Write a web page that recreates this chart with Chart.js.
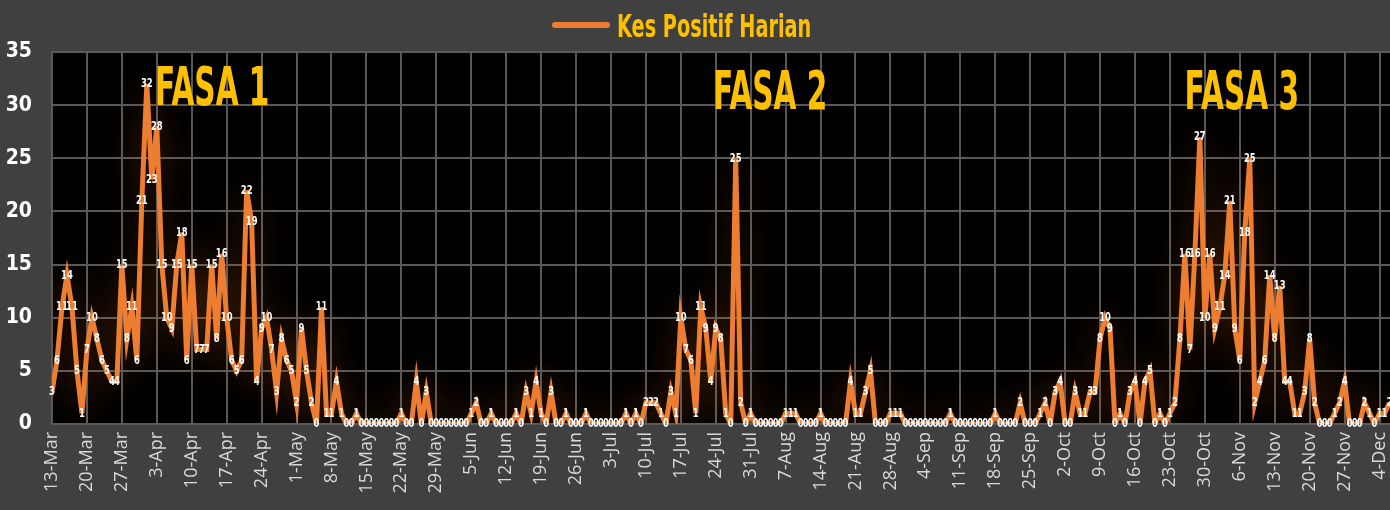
<!DOCTYPE html>
<html>
<head>
<meta charset="utf-8">
<title>Kes Positif Harian</title>
<script src="https://cdn.jsdelivr.net/npm/chart.js@4.4.1/dist/chart.umd.min.js"></script>
<style>
  html, body { margin: 0; padding: 0; background: #404040; overflow: hidden; }
  #wrap { position: relative; width: 1390px; height: 510px; }
</style>
</head>
<body>
<div id="wrap"><canvas id="chart"></canvas></div>
<script>
// ── DATA ──
const seriesName = 'Kes Positif Harian';

const weekLabels = [
  '13-Mar','20-Mar','27-Mar','3-Apr','10-Apr','17-Apr','24-Apr','1-May','8-May','15-May',
  '22-May','29-May','5-Jun','12-Jun','19-Jun','26-Jun','3-Jul','10-Jul','17-Jul','24-Jul',
  '31-Jul','7-Aug','14-Aug','21-Aug','28-Aug','4-Sep','11-Sep','18-Sep','25-Sep','2-Oct',
  '9-Oct','16-Oct','23-Oct','30-Oct','6-Nov','13-Nov','20-Nov','27-Nov','4-Dec'
];

// one value per day, starting 13-Mar (a row = one week)
const dailyCases = [
  3,6,11,14,11,5,1,
  7,10,8,6,5,4,4,
  15,8,11,6,21,32,23,
  28,15,10,9,15,18,6,
  15,7,7,7,15,8,16,
  10,6,5,6,22,19,4,
  9,10,7,3,8,6,5,
  2,9,5,2,0,11,1,
  1,4,1,0,0,1,0,
  0,0,0,0,0,0,0,
  1,0,0,4,0,3,0,
  0,0,0,0,0,0,0,
  1,2,0,0,1,0,0,
  0,0,1,0,3,1,4,
  1,0,3,0,0,1,0,
  0,0,1,0,0,0,0,
  0,0,0,1,0,1,0,
  2,2,2,1,0,3,1,
  10,7,6,1,11,9,4,
  9,8,1,0,25,2,0,
  1,0,0,0,0,0,0,
  1,1,1,0,0,0,0,
  1,0,0,0,0,0,4,
  1,1,3,5,0,0,0,
  1,1,1,0,0,0,0,
  0,0,0,0,0,1,0,
  0,0,0,0,0,0,0,
  1,0,0,0,0,2,0,
  0,0,1,2,0,3,4,
  0,0,3,1,1,3,3,
  8,10,9,0,1,0,3,
  4,0,4,5,0,1,0,
  1,2,8,16,7,16,27,
  10,16,9,11,14,21,9,
  6,18,25,2,4,6,14,
  8,13,4,4,1,1,3,
  8,2,0,0,0,1,2,
  4,0,0,0,2,1,0,
  1,1,2
];

const yTicks = [0, 5, 10, 15, 20, 25, 30, 35];

// phase captions (day counted from 13-Mar, level in cases)
const phaseNotes = [
  { text: 'FASA 1', day: 32.1,  level: 30.0 },
  { text: 'FASA 2', day: 143.9, level: 29.6 },
  { text: 'FASA 3', day: 238.4, level: 29.6 },
];

const COND   = '"Liberation Sans Narrow", "DejaVu Sans Condensed", "DejaVu Sans", sans-serif';
const ORANGE = '#ED7D31';
const GOLD   = '#FFC000';
const GRID   = '#595959';

// squeezed text, to get the tall narrow look of the original font
function narrowText(ctx, text, x, y, sx) {
  ctx.save();
  ctx.translate(x, y);
  ctx.scale(sx, 1);
  ctx.fillText(text, 0, 0);
  ctx.restore();
}

// ── PLUGINS ──
const plotBg = {
  id: 'plotBg',
  beforeDraw(chart) {
    const { ctx, chartArea: a } = chart;
    ctx.save();
    ctx.fillStyle = '#000';
    ctx.fillRect(a.left, a.top, a.right - a.left, a.bottom - a.top);
    ctx.restore();
  }
};

const glow = {
  id: 'glow',
  beforeDatasetsDraw(chart) {
    const c = chart.ctx;
    c.save();
    c.shadowColor = 'rgba(240,110,20,0.32)';
    c.shadowBlur = 34;
  },
  afterDatasetsDraw(chart) {
    chart.ctx.restore();
  }
};

const pointLabels = {
  id: 'pointLabels',
  afterDatasetsDraw(chart) {
    const ctx = chart.ctx;
    const pts = chart.getDatasetMeta(0).data;
    ctx.save();
    ctx.font = 'bold 13px ' + COND;
    ctx.fillStyle = '#fff';
    ctx.textAlign = 'center';
    ctx.textBaseline = 'middle';
    pts.forEach((p, i) => narrowText(ctx, String(dailyCases[i]), p.x, p.y, 0.72));
    ctx.restore();
  }
};

const phaseText = {
  id: 'phaseText',
  afterDraw(chart) {
    const { ctx, scales: { x, y } } = chart;
    ctx.save();
    ctx.font = 'bold 53px ' + COND;
    ctx.fillStyle = GOLD;
    ctx.textAlign = 'center';
    ctx.textBaseline = 'alphabetic';
    phaseNotes.forEach(p =>
      narrowText(ctx, p.text, x.getPixelForValue(p.day), y.getPixelForValue(p.level), 0.62));
    ctx.restore();
  }
};

// legend: short orange line + gold caption, top centre
const topLegend = {
  id: 'topLegend',
  afterDraw(chart) {
    const ctx = chart.ctx;
    const left = 555, mid = 25;
    ctx.save();
    ctx.strokeStyle = ORANGE;
    ctx.lineWidth = 6;
    ctx.lineCap = 'round';
    ctx.beginPath();
    ctx.moveTo(left, mid);
    ctx.lineTo(left + 52, mid);
    ctx.stroke();
    ctx.font = 'bold 32px ' + COND;
    ctx.fillStyle = GOLD;
    ctx.textAlign = 'left';
    ctx.textBaseline = 'alphabetic';
    narrowText(ctx, seriesName, left + 62, mid + 12, 0.67);
    ctx.restore();
  }
};

// ── CHART ──
new Chart(document.getElementById('chart').getContext('2d'), {
  type: 'line',
  data: {
    datasets: [{
      label: seriesName,
      data: dailyCases.map((v, i) => ({ x: i, y: v })),
      borderColor: ORANGE,
      backgroundColor: ORANGE,
      borderWidth: 5,
      pointRadius: 0,
      tension: 0,
    }]
  },
  options: {
    responsive: true, maintainAspectRatio: false, animation: false,
    layout: { padding: { top: 52, left: 0, right: 0, bottom: 0 } },
    plugins: {
      tooltip: { enabled: false },
      legend: { display: false }
    },
    scales: {
      x: {
        type: 'linear', min: 0, max: 268.1,
        afterFit(s) { s.height = 86; s.paddingLeft = 0; s.paddingRight = 0; },
        grid: { color: GRID, lineWidth: 2, drawTicks: false },
        border: { color: GRID, width: 2 },
        ticks: {
          stepSize: 7, autoSkip: false, includeBounds: false,
          minRotation: 90, maxRotation: 90, padding: 8,
          color: '#d9d9d9',
          font: { family: '"Open Sans", sans-serif', size: 18 },
          callback: v => weekLabels[v / 7] ?? '',
        }
      },
      y: {
        min: 0, max: 35,
        afterFit(s) { s.width = 52; s.paddingTop = 0; s.paddingBottom = 0; },
        afterBuildTicks(s) { s.ticks = yTicks.map(v => ({ value: v })); },
        grid: { color: GRID, lineWidth: 2, drawTicks: false },
        border: { color: GRID, width: 2 },
        ticks: {
          padding: 20, color: '#fff',
          font: { family: COND, size: 21, weight: 'bold' },
        }
      }
    }
  },
  plugins: [plotBg, glow, pointLabels, phaseText, topLegend]
});
</script>
</body>
</html>
